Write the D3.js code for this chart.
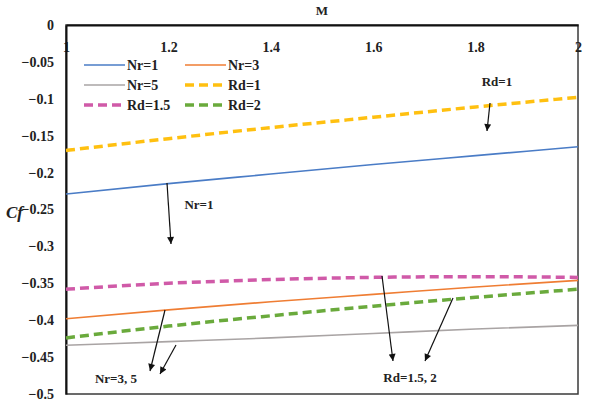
<!DOCTYPE html>
<html>
<head>
<meta charset="utf-8">
<script src="https://cdn.jsdelivr.net/npm/d3@7/dist/d3.min.js"></script>
<style>
  html, body { margin: 0; padding: 0; background: #fff; }
  svg { display: block; }
  text { font-family: "Liberation Serif", "Times New Roman", serif; font-weight: bold; fill: #222; }
</style>
</head>
<body>
<svg id="chart" width="589" height="404"></svg>
<script>
// Magnetic parameter M
const mValues = [1, 1.2, 1.4, 1.6, 1.8, 2];

// Skin friction Cf for each case
const nr1 = [-0.229, -0.215, -0.202, -0.189, -0.177, -0.165];
const nr3 = [-0.398, -0.386, -0.375, -0.365, -0.355, -0.346];
const nr5 = [-0.434, -0.429, -0.424, -0.418, -0.412, -0.407];
const rd1 = [-0.170, -0.154, -0.139, -0.125, -0.111, -0.098];
const rd15 = [-0.358, -0.350, -0.345, -0.342, -0.341, -0.342];
const rd2 = [-0.424, -0.408, -0.394, -0.381, -0.369, -0.358];

const seriesNames = ["Nr=1", "Nr=3", "Nr=5", "Rd=1", "Rd=1.5", "Rd=2"];
const seriesValues = [nr1, nr3, nr5, rd1, rd15, rd2];
const seriesColors = ["#4a7cc6", "#ef7d33", "#a9a4a4", "#ffc010", "#d05aa8", "#6aaa3c"];
const seriesDashed = [false, false, false, true, true, true];

const xTicks = [1, 1.2, 1.4, 1.6, 1.8, 2];
const yTicks = [0, -0.05, -0.1, -0.15, -0.2, -0.25, -0.3, -0.35, -0.4, -0.45, -0.5];

const svg = d3.select("#chart");
const plotLeft = 66, plotRight = 578, plotTop = 25, plotBottom = 394;

const x = d3.scaleLinear().domain([1, 2]).range([plotLeft, plotRight]);
const y = d3.scaleLinear().domain([0, -0.5]).range([plotTop, plotBottom]);

// plot frame
svg.append("rect")
  .attr("x", plotLeft).attr("y", plotTop)
  .attr("width", plotRight - plotLeft).attr("height", plotBottom - plotTop)
  .attr("fill", "none").attr("stroke", "#3a3a3a").attr("stroke-width", 1.5);

// x axis along the top edge (crosses at Cf = 0), labels inside the plot
const xAxis = d3.axisBottom(x).tickValues(xTicks).tickSize(0).tickPadding(17)
  .tickFormat(d3.format("~g"));
const gx = svg.append("g").attr("transform", `translate(0,${plotTop})`).call(xAxis);
gx.select(".domain").attr("stroke", "#111").attr("stroke-width", 2);
gx.selectAll("text").attr("font-size", 14).attr("font-family", "Liberation Serif")
  .attr("font-weight", "bold").attr("fill", "#222");

// y axis on the left
const yAxis = d3.axisLeft(y).tickValues(yTicks).tickSize(0).tickPadding(12)
  .tickFormat(d3.format("~g"));
const gy = svg.append("g").attr("transform", `translate(${plotLeft},0)`).call(yAxis);
gy.select(".domain").attr("stroke", "#111").attr("stroke-width", 2);
gy.selectAll("text").attr("font-size", 14).attr("font-family", "Liberation Serif")
  .attr("font-weight", "bold").attr("fill", "#222");

// axis titles
svg.append("text").attr("x", (plotLeft + plotRight) / 2).attr("y", 15)
  .attr("text-anchor", "middle").attr("font-size", 13).text("M");
svg.append("text").attr("x", 6).attr("y", 218)
  .attr("font-size", 17).attr("font-style", "italic").attr("font-weight", "normal")
  .text("Cf");

// series lines
const line = d3.line().x((d, i) => x(mValues[i])).y(d => y(d)).curve(d3.curveMonotoneX);
seriesValues.forEach((vals, i) => {
  svg.append("path").datum(vals)
    .attr("d", line)
    .attr("fill", "none")
    .attr("stroke", seriesColors[i])
    .attr("stroke-width", seriesDashed[i] ? 3.5 : 1.6)
    .attr("stroke-dasharray", seriesDashed[i] ? "9,5" : null);
});

// legend (two columns, three rows)
const legendCols = [84, 185];
const legendRows = [65, 85, 105];
seriesNames.forEach((name, i) => {
  const lx = legendCols[i % 2], ly = legendRows[Math.floor(i / 2)];
  svg.append("line")
    .attr("x1", lx).attr("x2", lx + 41).attr("y1", ly).attr("y2", ly)
    .attr("stroke", seriesColors[i])
    .attr("stroke-width", seriesDashed[i] ? 3.5 : 1.6)
    .attr("stroke-dasharray", seriesDashed[i] ? "9,5" : null);
  svg.append("text").attr("x", lx + 43).attr("y", ly + 5)
    .attr("font-size", 14).text(name);
});

// annotation arrows
const defs = svg.append("defs");
defs.append("marker").attr("id", "head")
  .attr("viewBox", "0 0 10 10").attr("refX", 10).attr("refY", 5)
  .attr("markerWidth", 10).attr("markerHeight", 7)
  .attr("markerUnits", "userSpaceOnUse").attr("orient", "auto")
  .append("path").attr("d", "M0,0 L10,5 L0,10 Z").attr("fill", "#111");

const arrows = [
  [490, 103, 487, 131],
  [167, 183, 171, 244],
  [165, 310, 150, 371],
  [176, 345, 160, 374],
  [382, 276, 393, 361],
  [453, 298, 425, 361]
];
arrows.forEach(a => {
  svg.append("line")
    .attr("x1", a[0]).attr("y1", a[1]).attr("x2", a[2]).attr("y2", a[3])
    .attr("stroke", "#111").attr("stroke-width", 1.2)
    .attr("marker-end", "url(#head)");
});

const notes = [
  ["Rd=1", 497, 86],
  ["Nr=1", 199, 209],
  ["Nr=3, 5", 116, 383],
  ["Rd=1.5, 2", 410, 382]
];
notes.forEach(n => {
  svg.append("text").attr("x", n[1]).attr("y", n[2])
    .attr("text-anchor", "middle").attr("font-size", 13).text(n[0]);
});
</script>
</body>
</html>
